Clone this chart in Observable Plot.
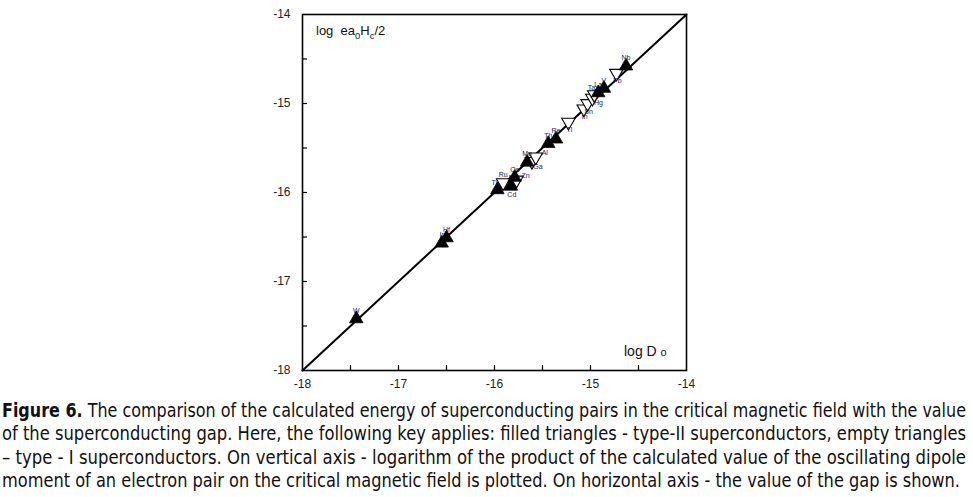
<!DOCTYPE html>
<html><head><meta charset="utf-8">
<script src="https://cdn.jsdelivr.net/npm/d3@7"></script>
<script src="https://cdn.jsdelivr.net/npm/@observablehq/plot@0.6"></script>
<style>
body{margin:0;background:#fff;font-family:"Liberation Sans",Arial,sans-serif;}
#chart{position:absolute;left:0;top:0;}
#cap{position:absolute;left:2px;top:399px;width:966px;font-family:"DejaVu Sans Condensed","Liberation Sans Narrow","Liberation Sans",sans-serif;font-stretch:condensed;font-size:19.5px;line-height:23.3px;color:#111;}
#cap div{white-space:nowrap;height:23.3px;}
#cap span{display:inline-block;transform-origin:0 50%;}
</style></head>
<body>
<div id="chart"></div>
<div id="cap">
<div><span><b>Figure 6.</b> The comparison of the calculated energy of superconducting pairs in the critical magnetic field with the value</span></div>
<div><span>of the superconducting gap. Here, the following key applies: filled triangles - type-II superconductors, empty triangles</span></div>
<div><span>– type - I superconductors. On vertical axis - logarithm of the product of the calculated value of the oscillating dipole</span></div>
<div><span>moment of an electron pair on the critical magnetic field is plotted. On horizontal axis - the value of the gap is shown.</span></div>
</div>
<script>
// ---- data ----
const elements = ["W","Ir","Hf","Ti","Cd","Ru","Os","Zn","Mo","Ga","Al","Th","Re","Tl","In","Sn","Hg","Ta","La","V","Pb","Nb"];
const logGap   = [-17.44,-16.55,-16.50,-15.97,-15.83,-15.91,-15.79,-15.77,-15.66,-15.61,-15.57,-15.44,-15.36,-15.23,-15.07,-15.03,-14.98,-14.96,-14.92,-14.86,-14.73,-14.63];
const logEnergy= [-17.42,-16.57,-16.51,-15.97,-15.93,-15.89,-15.83,-15.86,-15.66,-15.65,-15.60,-15.45,-15.40,-15.21,-15.06,-15.00,-14.94,-14.90,-14.88,-14.83,-14.66,-14.58];
const sType    = ["II","II","II","II","II","I","II","I","II","I","I","II","II","I","I","I","I","I","II","II","I","II"];
const labelSide= ["n","n","n","nw","s","n","n","e","n","se","e","n","n","s","s","s","se","nw","n","n","s","n"];
const axisTicks = [-18,-17,-16,-15,-14];
const minorTicks = [-17.5,-17,-16.5,-16,-15.5,-15,-14.5];
const diagonal = [-18,-14];

const pts = elements.map((e,i)=>({el:e,x:logGap[i],y:logEnergy[i],t:sType[i],side:labelSide[i]}));
const diag = diagonal.map(v=>({x:v,y:v}));
const offs = {n:[0,-8], s:[1,8], e:[9,-4], se:[6,5], nw:[-3,-7]};
const labelFill = "#1d1d4d";
const FONT = "'Liberation Sans', Arial, sans-serif";

const W = 973, H = 392, mL = 302, mR = 287, mT = 14, mB = 22;
const pw = W - mL - mR, ph = H - mT - mB;

const marks = [
  Plot.frame({stroke:"#000", strokeWidth:1.6}),
  Plot.ruleX(minorTicks, {x:d=>d, insetTop: ph-5, stroke:"#000", strokeWidth:1.2}),
  Plot.ruleY(minorTicks, {y:d=>d, insetRight: pw-5, stroke:"#000", strokeWidth:1.2}),
  Plot.axisX({ticks: axisTicks, tickSize:0, tickPadding:9, tickFormat:d=>String(d), fontSize:12, fill:"#222", label:null}),
  Plot.axisY({ticks: axisTicks, tickSize:0, tickPadding:12, tickFormat:d=>String(d), fontSize:12, fill:"#222", label:null}),
  Plot.line(diag, {x:"x", y:"y", stroke:"#000", strokeWidth:2}),
  Plot.dot(pts.filter(d=>d.t==="I"), {x:"x", y:"y", symbol:"triangle", rotate:180, r:5, fill:"#fff", stroke:"#000", strokeWidth:1.1}),
  Plot.dot(pts.filter(d=>d.t==="II"), {x:"x", y:"y", symbol:"triangle", r:5, fill:"#000", stroke:"#000", strokeWidth:0.8})
];
for (const side of Object.keys(offs)) {
  marks.push(Plot.text(pts.filter(d=>d.side===side), {x:"x", y:"y", text:"el", dx:offs[side][0], dy:offs[side][1], fontSize:7, fill:labelFill, fontFamily:FONT}));
}

const chart = Plot.plot({
  width: W, height: H,
  marginLeft: mL, marginRight: mR, marginTop: mT, marginBottom: mB,
  style: {fontFamily: FONT, background:"#fff", overflow:"visible"},
  x: {domain: [-18,-14], label:null},
  y: {domain: [-18,-14], label:null},
  marks
});
document.getElementById("chart").appendChild(chart);

// in-plot axis titles
const svg = d3.select(chart);
const t1 = svg.append("text").attr("x", mL+14).attr("y", mT+21).attr("font-size", 13).attr("fill","#111")
  .attr("font-family", FONT).attr("text-anchor","start").style("white-space","pre");
t1.append("tspan").text("log  ea");
t1.append("tspan").attr("font-size",9.5).attr("dy",4).text("0");
t1.append("tspan").attr("dy",-4).text("H");
t1.append("tspan").attr("font-size",9.5).attr("dy",4).text("c");
t1.append("tspan").attr("dy",-4).text("/2");
const t2 = svg.append("text").attr("x", mL+322).attr("y", mT+ph-14).attr("font-size", 14).attr("fill","#111")
  .attr("font-family", FONT).attr("text-anchor","start").style("white-space","pre");
t2.append("tspan").text("log D ");
t2.append("tspan").attr("font-size",11).text("o");

// caption line fitting
document.querySelectorAll("#cap span").forEach((s,i,arr)=>{
  const target = i===arr.length-1 ? 958 : 964;
  const w = s.getBoundingClientRect().width;
  s.style.transform = `scaleX(${target/w})`;
});
</script>
</body></html>
